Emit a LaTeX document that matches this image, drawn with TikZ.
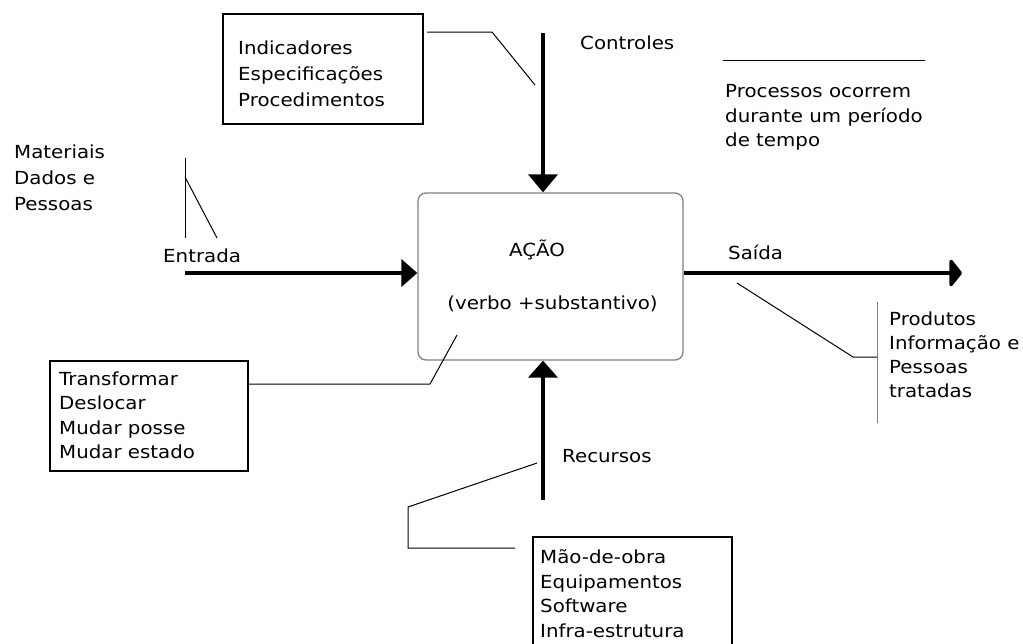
\documentclass[tikz,border=0pt]{standalone}
\usepackage{fontspec}
\setmainfont[FakeStretch=1.1]{DejaVu Sans}
\usetikzlibrary{arrows.meta}
\begin{document}
\begin{tikzpicture}[x=1pt,y=-1pt,
  txt/.style={inner sep=0pt, font=\fontsize{18}{24.5}\selectfont, align=left},
  box/.style={draw=black, line width=1.4pt, inner sep=0pt},
  lead/.style={draw=black, line width=1pt},
  flow/.style={line width=4pt, -{Triangle[length=18pt,width=29pt]}}]
\useasboundingbox (0,0) rectangle (1023,643);
\clip (0,0) rectangle (1023,643);

% boxes
\node[box, minimum width=200pt, minimum height=110pt] (ctrlbox) at (323,69) {};
\node[box, minimum width=198pt, minimum height=110pt] (transfbox) at (149,416) {};
\node[box, minimum width=199pt, minimum height=113pt] (maobox) at (632.5,593.5) {};
\node[draw=gray, line width=1.3pt, rounded corners=8pt, minimum width=265pt,
      minimum height=167pt, inner sep=0pt] (act) at (550.5,276.5) {};

% texts
\node[txt, anchor=north west, font=\fontsize{18}{26.3}\selectfont] (ctrltxt) at (238,40.5)
  {Indicadores\\Especificações\\Procedimentos};
\node[txt, anchor=base west] (controles) at (580,49) {Controles};
\node[txt, anchor=north west] (proc) at (725,84.5)
  {Processos ocorrem\\durante um período\\de tempo};
\node[txt, anchor=north west, font=\fontsize{18}{26}\selectfont] (mat) at (14,144.5)
  {Materiais\\Dados e\\Pessoas};
\node[txt, anchor=base west] (entrada) at (163,262) {Entrada};
\node[txt, anchor=base] (acao) at (537,256) {AÇÃO};
\node[txt, anchor=base] (verbo) at (552.5,309) {(verbo +substantivo)};
\node[txt, anchor=base west] (saida) at (728,259) {Saída};
\node[txt, anchor=north west, font=\fontsize{18}{24}\selectfont] (prod) at (889,311.5)
  {Produtos\\Informação e\\Pessoas\\tratadas};
\node[txt, anchor=north west] (transf) at (59,371.5)
  {Transformar\\Deslocar\\Mudar posse\\Mudar estado};
\node[txt, anchor=base west] (recursos) at (562,462) {Recursos};
\node[txt, anchor=north west] (mao) at (540,549.5)
  {Mão-de-obra\\Equipamentos\\Software\\Infra-estrutura};

% flow arrows
\coordinate (ctrltop) at (543,33);
\coordinate (resbot) at (543,500);
\coordinate (entstart) at (185,273);
\coordinate (outend) at (962,273);
\draw[flow] (ctrltop) -- (ctrltop |- act.north);
\draw[flow, -{Triangle[length=17pt,width=29pt]}] (resbot) -- (resbot |- act.south);
\draw[flow, -{Triangle[length=16pt,width=27pt]}] (entstart) -- (entstart -| act.west);
\draw[flow, -{Triangle[length=13pt,width=32pt,round]}] (act.east |- outend) -- (outend);

% leader lines
\coordinate (l1a) at (427,32);
\coordinate (l1b) at (492,32);
\coordinate (l1c) at (535,85);
\draw[lead] (l1a) -- (l1b) -- (l1c);

\coordinate (m1a) at (185,158);
\coordinate (m1b) at (185,238);
\coordinate (m2a) at (185,177);
\coordinate (m2b) at (217,238);
\draw[lead] (m1a) -- (m1b);
\draw[lead] (m2a) -- (m2b);

\coordinate (t1b) at (430,384);
\coordinate (t1c) at (457,335);
\draw[lead] (transfbox.east |- t1b) -- (t1b) -- (t1c);

\coordinate (r1a) at (537,463);
\coordinate (r1b) at (408,507);
\coordinate (r1c) at (408,548);
\coordinate (r1d) at (515,548);
\draw[lead] (r1a) -- (r1b) -- (r1c) -- (r1d);

\coordinate (s1a) at (737,283);
\coordinate (s1b) at (853,357);
\coordinate (s1c) at (877,357);
\draw[lead] (s1a) -- (s1b) -- (s1c);
\coordinate (p1a) at (877,302);
\coordinate (p1b) at (877,423);
\draw[draw=gray, line width=1pt] (p1a) -- (p1b);

\coordinate (h1a) at (723,60);
\coordinate (h1b) at (925,60);
\draw[lead] (h1a) -- (h1b);
\end{tikzpicture}
\end{document}
